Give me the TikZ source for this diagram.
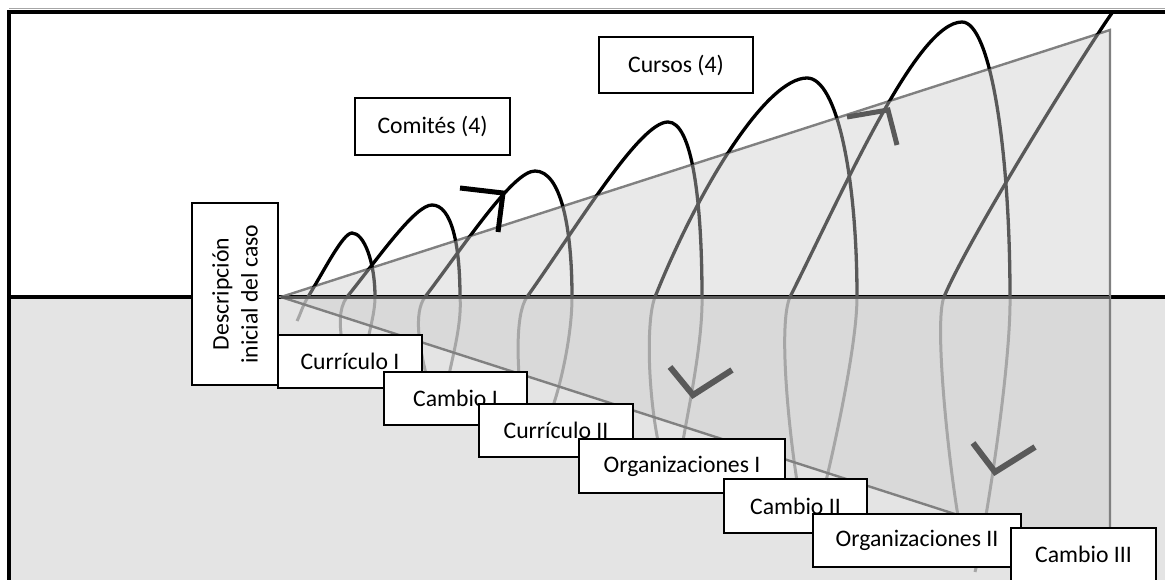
\documentclass[tikz,border=0pt]{standalone}
\usepackage{fontspec}
\setmainfont{Carlito}
\definecolor{frontgray}{HTML}{595959}
\definecolor{backgray}{HTML}{A6A6A6}
\definecolor{rimgray}{HTML}{808080}
\definecolor{lowfill}{HTML}{E4E4E4}
\definecolor{conetop}{HTML}{E9E9E9}
\definecolor{conebottom}{HTML}{D9D9D9}
% the seven turns of the spiral: lower end, rise through the axis, crest, fall through the axis, lower end
\newcommand\spiralturns[1]{%
  \draw[#1] (297,321) .. controls +(4,-8) and +(-6,10) .. (308,297)
    .. controls +(17,-28) and +(-9,0) .. (352,233)
    .. controls +(12,0) and +(0,-35) .. (375,297)
    .. controls +(0,15) and +(2,-12) .. (368,340);
  \draw[#1] (342,342) .. controls +(-2,-15) and +(-9,12) .. (347,297)
    .. controls +(32,-40) and +(-17,0) .. (432,205)
    .. controls +(20,0) and +(0,-51) .. (460,297)
    .. controls +(2,25) and +(4,-20) .. (449,375);
  \draw[#1] (426,374) .. controls +(-6,-25) and +(-12,16) .. (425,297)
    .. controls +(41,-54) and +(-22,0) .. (535,171)
    .. controls +(26,0) and +(0,-69) .. (572,297)
    .. controls +(0,40) and +(7,-20) .. (553,406);
  \draw[#1] (522,406) .. controls +(-5,-40) and +(-12,17) .. (527,297)
    .. controls +(53,-75) and +(-28,0) .. (668,122)
    .. controls +(24,0) and +(0,-97) .. (702,297)
    .. controls +(1,45) and +(4,-25) .. (683,441);
  \draw[#1] (658,441) .. controls +(-10,-50) and +(-9,23) .. (655,297)
    .. controls +(45,-112) and +(-40,0) .. (807,78)
    .. controls +(30,0) and +(0,-120) .. (857,297)
    .. controls +(0,50) and +(6,-25) .. (826,481);
  \draw[#1] (797,481) .. controls +(-8,-50) and +(-12,27) .. (790,297)
    .. controls +(55,-110) and +(-45,0) .. (962,22)
    .. controls +(28,0) and +(0,-150) .. (1010,297)
    .. controls +(1,70) and +(10,-40) .. (975,572);
  \draw[#1] (958,516) .. controls +(-10,-60) and +(-10,25) .. (944,297)
    .. controls +(25,-60) and +(-25,35) .. (1112,13);
}
\begin{document}
\begin{tikzpicture}[x=1pt,y=-1pt,
  caja/.style={draw=black,line width=2pt,fill=white,inner sep=0pt,
    font=\fontsize{23.7}{29}\selectfont},
  backline/.style={draw=backgray,line width=3pt},
  midline/.style={draw=frontgray,line width=3.3pt},
  frontline/.style={draw=black,line width=3.3pt},
  rim/.style={draw=rimgray,line width=2.4pt},
  chevron/.style={line width=5pt,line join=miter,line cap=butt}]
\useasboundingbox (0,0) rectangle (1165,580);

% lower half of the frame
\fill[lowfill] (9,297) rectangle (1165,580);
% the cone: upper and lower halves
\fill[conetop] (281,297) -- (1110,30) -- (1110,297) -- cycle;
\fill[conebottom] (281,297) -- (1110,564) -- (1110,297) -- cycle;

% hidden half of each turn
\begin{scope}
  \clip (0,297) rectangle (1165,580);
  \spiralturns{backline}
\end{scope}

% frame
\draw[rimgray!70,line width=1pt] (9,8.5) -- (1165,8.5);
\draw[black,line width=4pt] (1165,12) -- (9,12) -- (9,580);
\draw[black,line width=4pt] (7,297) -- (1165,297);

% cone outline and axis
\draw[rim] (281,297) -- (1110,30) -- (1110,564) -- cycle;
\draw[frontgray,line width=3pt] (281,297) -- (1110,297);

% visible half of each turn, inside and outside the cone
\begin{scope}
  \clip (281,297) -- (1110,30) -- (1110,297) -- cycle;
  \spiralturns{midline}
\end{scope}
\begin{scope}
  \clip (0,0) -- (1165,0) -- (1165,297) -- (1110,297) -- (1110,30) -- (281,297) -- (0,297) -- cycle;
  \spiralturns{frontline}
\end{scope}

% direction marks along the spiral
\draw[chevron,black] (460,188) -- (503,193) -- (498,232);
\draw[chevron,frontgray] (847,117) -- (888,110) -- (897,145);
\draw[chevron,frontgray,line width=6pt] (670,367) -- (693,395) -- (732,370);
\draw[chevron,frontgray,line width=6pt] (973,443) -- (995,472) -- (1035,447);

% labels
\node[caja,minimum width=155,minimum height=57] (comites) at (432.5,126.5) {Comités (4)};
\node[caja,minimum width=154,minimum height=56] (cursos) at (676,65) {Cursos (4)};
\node[caja,rotate=90,align=center,minimum width=182,minimum height=86] (descripcion) at (235,294) {Descripción\\inicial del caso};
\node[caja,minimum width=144,minimum height=53] (curriculo1) at (350,361.5) {Currículo I};
\node[caja,minimum width=143,minimum height=53] (cambio1) at (455.5,398.5) {Cambio I};
\node[caja,minimum width=154,minimum height=53] (curriculo2) at (556,430.5) {Currículo II};
\node[caja,minimum width=206,minimum height=54] (organizaciones1) at (682,466) {Organizaciones I};
\node[caja,minimum width=143,minimum height=54] (cambio2) at (795.5,506) {Cambio II};
\node[caja,minimum width=208,minimum height=53] (organizaciones2) at (917,540.5) {Organizaciones II};
\node[caja,minimum width=145,minimum height=53] (cambio3) at (1083.5,554.5) {Cambio III};
\end{tikzpicture}
\end{document}
